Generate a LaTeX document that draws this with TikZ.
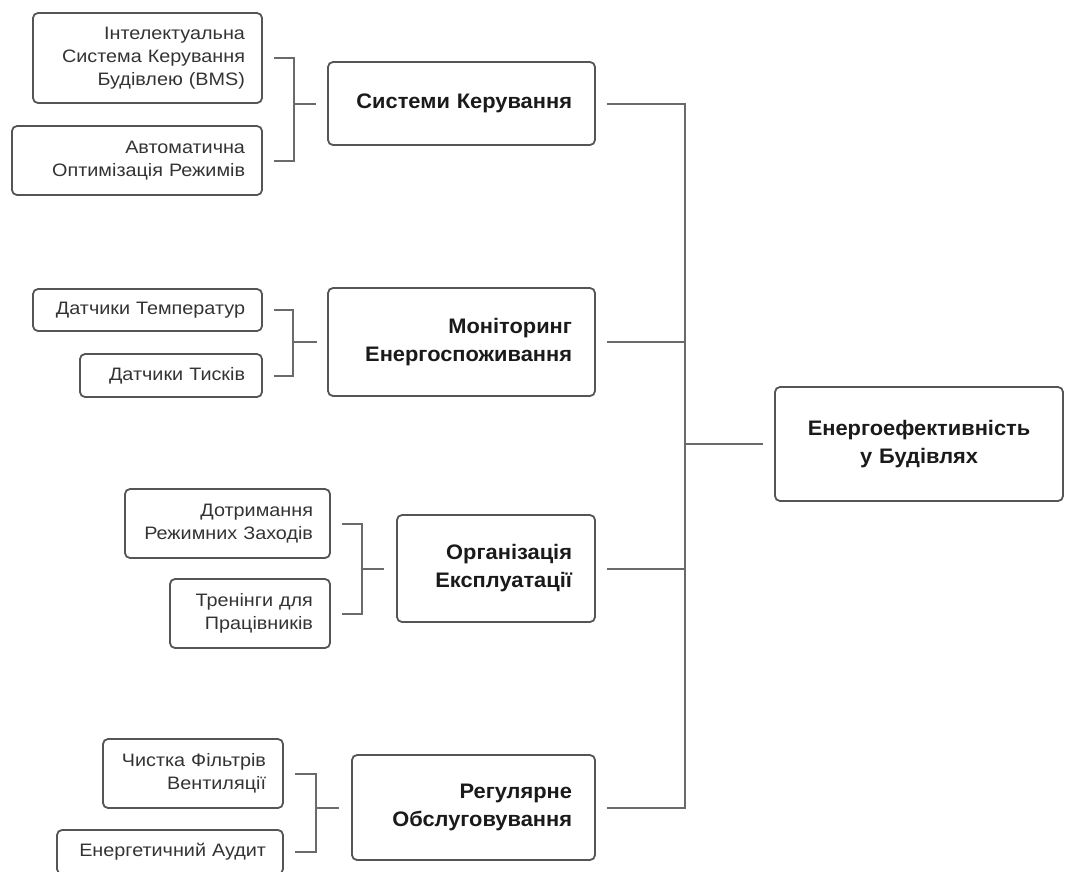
\documentclass[tikz,border=0pt]{standalone}
\usepackage{fontspec}
\setmainfont{Liberation Sans}
\newfontfamily\childf[FakeStretch=1.1]{Liberation Sans}
\newfontfamily\parentf[FakeStretch=1.04]{Liberation Sans}
\usetikzlibrary{calc}
\definecolor{bord}{HTML}{555555}
\definecolor{conn}{HTML}{6A6A6A}
\definecolor{ctext}{HTML}{333333}
\definecolor{ptext}{HTML}{1A1A1A}
\tikzset{
  cbox/.style={draw=bord, line width=1.8pt, rounded corners=5pt, align=right,
    inner xsep=17pt, inner ysep=0pt, text=ctext,
    font=\childf\fontsize{18}{23}\selectfont},
  pbox/.style={draw=bord, line width=1.8pt, rounded corners=5pt, align=right,
    inner xsep=23pt, inner ysep=0pt, text=ptext,
    font=\parentf\bfseries\fontsize{21}{28}\selectfont},
  mbox/.style={pbox, align=center, inner xsep=10pt},
  link/.style={draw=conn, line width=2pt},
}
\begin{document}
\begin{tikzpicture}[x=1pt,y=-1pt]
\useasboundingbox (0,0) rectangle (1067,871);
\clip (0,0) rectangle (1067,871);
% level-2 boxes
\node[cbox, text width=195pt, minimum height=90pt] (A1) at (147.5,58) {Інтелектуальна\\Система Керування\\Будівлею (BMS)};
\node[cbox, text width=216pt, minimum height=69pt] (A2) at (137,160.5) {Автоматична\\Оптимізація Режимів};
\node[cbox, text width=195pt, minimum height=42pt] (B1) at (147.5,310) {Датчики Температур};
\node[cbox, text width=148pt, minimum height=43pt] (B2) at (171,375.5) {Датчики Тисків};
\node[cbox, text width=171pt, minimum height=69pt] (C1) at (227.5,523.5) {Дотримання\\Режимних Заходів};
\node[cbox, text width=126pt, minimum height=69pt] (C2) at (250,613.5) {Тренінги для\\Працівників};
\node[cbox, text width=146pt, minimum height=69pt] (D1) at (193,773.5) {Чистка Фільтрів\\Вентиляції};
\node[cbox, text width=192pt, minimum height=44pt] (D2) at (170,852) {Енергетичний Аудит};
% level-1 boxes
\node[pbox, text width=221pt, minimum height=83pt] (A) at (461.5,103.5) {Системи Керування};
\node[pbox, text width=221pt, minimum height=108pt] (B) at (461.5,342) {Моніторинг\\Енергоспоживання};
\node[pbox, text width=152pt, minimum height=107pt] (C) at (496,568.5) {Організація\\Експлуатації};
\node[pbox, text width=197pt, minimum height=105pt] (D) at (473.5,807.5) {Регулярне\\Обслуговування};
% root
\node[mbox, text width=268pt, minimum height=114pt] (M) at (919,444) {Енергоефективність\\у Будівлях};
% junctions
\coordinate (jA) at ([xshift=-33pt]A.west);
\coordinate (jB) at ([xshift=-34pt]B.west);
\coordinate (jC) at ([xshift=-34pt]C.west);
\coordinate (jD) at ([xshift=-35pt]D.west);
\coordinate (T) at (685,444);
% brackets
\draw[link] ([xshift=11pt]A1.east) -| (jA);
\draw[link] ([xshift=11pt]A2.east) -| (jA);
\draw[link] (jA) -- ([xshift=-11pt]A.west);
\draw[link] ([xshift=11pt]B1.east) -| (jB);
\draw[link] ([xshift=11pt]B2.east) -| (jB);
\draw[link] (jB) -- ([xshift=-10pt]B.west);
\draw[link] ([xshift=11pt]C1.east) -| (jC);
\draw[link] ([xshift=11pt]C2.east) -| (jC);
\draw[link] (jC) -- ([xshift=-12pt]C.west);
\draw[link] ([xshift=11pt]D1.east) -| (jD);
\draw[link] ([xshift=11pt]D2.east) -| (jD);
\draw[link] (jD) -- ([xshift=-12pt]D.west);
% trunk
\draw[link] ([xshift=11pt]A.east) -| (T);
\draw[link] ([xshift=11pt]B.east) -| (T);
\draw[link] ([xshift=11pt]C.east) -| (T);
\draw[link] ([xshift=11pt]D.east) -| (T);
\draw[link] (T) -- ([xshift=-11pt]M.west);
\end{tikzpicture}
\end{document}
